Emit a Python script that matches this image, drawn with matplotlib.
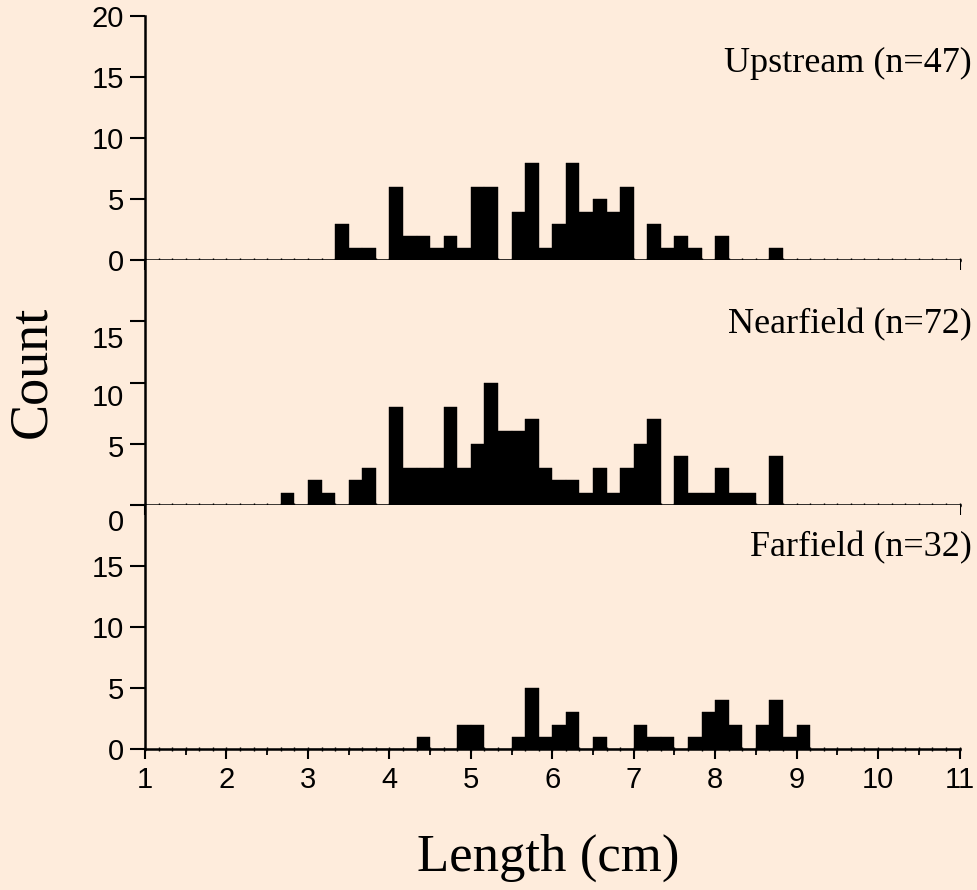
import numpy as np
import matplotlib.pyplot as plt
from matplotlib.ticker import MultipleLocator, FixedLocator, NullFormatter

# histogram bins: 1/6 cm wide, first listed bin starts at 2 2/3 cm
bin_start = 2 + 2 / 3
bin_width = 1 / 6

upstream = [0, 0, 0, 0, 3, 1, 1, 0, 6, 2, 2, 1, 2, 1, 6, 6, 0, 4, 8, 1,
            3, 8, 4, 5, 4, 6, 0, 3, 1, 2, 1, 0, 2, 0, 0, 0, 1, 0, 0]
nearfield = [1, 0, 2, 1, 0, 2, 3, 0, 8, 3, 3, 3, 8, 3, 5, 10, 6, 6, 7, 3,
             2, 2, 1, 3, 1, 3, 5, 7, 0, 4, 1, 1, 3, 1, 1, 0, 4, 0, 0]
farfield = [0, 0, 0, 0, 0, 0, 0, 0, 0, 0, 1, 0, 0, 2, 2, 0, 0, 1, 5, 1,
            2, 3, 0, 1, 0, 0, 2, 1, 1, 0, 1, 3, 4, 2, 0, 2, 4, 1, 2]

titles = ['Upstream (n=47)', 'Nearfield (n=72)', 'Farfield (n=32)']
title_y = [15.4, 14.0, 15.8]
x_ticks = list(range(1, 12))
y_ticks = [0, 5, 10, 15, 20]
# the middle panel's labels sit a little below their ticks in the original
mid_labels = ['15', '10', '5', '0']
mid_label_y = [13.5, 8.7, 4.6, -1.5]

bg = '#feecdc'
serif = 'Liberation Serif'
sans = 'Liberation Sans'
tick_size = 21


def style_axis(ax, show_xlabels, top_label):
    ax.set_facecolor(bg)
    ax.set_xlim(1, 11)
    ax.set_ylim(0, 20)
    for side in ['top', 'right']:
        ax.spines[side].set_visible(False)
    for side in ['left', 'bottom']:
        ax.spines[side].set_linewidth(1.8)
    ax.xaxis.set_major_locator(FixedLocator(x_ticks))
    ax.xaxis.set_minor_locator(MultipleLocator(0.5))
    ax.tick_params(axis='x', which='major', length=7, width=1.5, direction='out',
                   labelbottom=show_xlabels, labelsize=tick_size, pad=5)
    ax.tick_params(axis='x', which='minor', length=4, width=1.3, direction='out')
    ticks = y_ticks if top_label else y_ticks[:-1]
    ax.yaxis.set_major_locator(FixedLocator(ticks))
    ax.tick_params(axis='y', length=11, width=1.5, labelsize=tick_size, pad=4)
    for lab in ax.get_xticklabels() + ax.get_yticklabels():
        lab.set_fontfamily(sans)
    # tiny ticks at every bin edge
    sec = ax.secondary_xaxis('bottom')
    sec.xaxis.set_major_locator(MultipleLocator(bin_width))
    sec.xaxis.set_major_formatter(NullFormatter())
    sec.tick_params(length=2.5, width=1.0, direction='inout')
    sec.spines['bottom'].set_visible(False)


fig = plt.figure(figsize=(9.78, 8.9), dpi=100)
fig.patch.set_facecolor(bg)

left, width, height = 0.1483, 0.8328, 0.2745
bottoms = [0.1584 + 2 * height, 0.1584 + height, 0.1584]
series = [upstream, nearfield, farfield]

for i, counts in enumerate(series):
    ax = fig.add_axes([left, bottoms[i], width, height])
    lefts = bin_start + bin_width * np.arange(len(counts))
    ax.bar(lefts, counts, width=bin_width, align='edge', color='black',
           edgecolor='black', linewidth=0.3)
    style_axis(ax, show_xlabels=(i == 2), top_label=(i == 0))
    if i == 1:
        ax.set_yticklabels([])
        for lab, yv in zip(mid_labels, mid_label_y):
            ax.text(-0.0255, yv, lab, transform=ax.get_yaxis_transform(),
                    ha='right', va='center', fontsize=tick_size, family=sans,
                    clip_on=False)
    ax.text(1.0153, title_y[i], titles[i], transform=ax.get_yaxis_transform(),
            ha='right', va='baseline', fontsize=26, family=serif, clip_on=False)

fig.text(0.033, 0.582, 'Count', rotation=90, ha='center', va='center',
         fontsize=39, family=serif)
fig.text(0.561, 0.036, 'Length (cm)', ha='center', va='center',
         fontsize=38, family=serif)

fig.savefig('out.png', dpi=100, facecolor=bg)
